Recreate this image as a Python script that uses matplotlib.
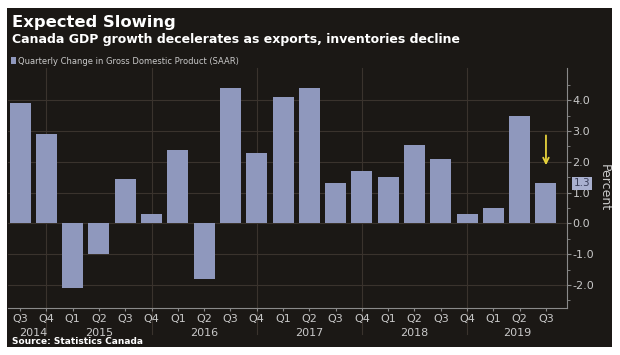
import matplotlib.pyplot as plt
from matplotlib.patches import Rectangle
from matplotlib.transforms import blended_transform_factory

quarters = ["Q3", "Q4", "Q1", "Q2", "Q3", "Q4", "Q1", "Q2", "Q3", "Q4", "Q1",
            "Q2", "Q3", "Q4", "Q1", "Q2", "Q3", "Q4", "Q1", "Q2", "Q3"]
years = ["2014", "2015", "2016", "2017", "2018", "2019"]
gdp_change = [3.9, 2.9, -2.1, -1.0, 1.45, 0.3, 2.4, -1.8, 4.4, 2.3, 4.1,
              4.4, 1.3, 1.7, 1.5, 2.55, 2.1, 0.3, 0.5, 3.5, 1.3]
yticks = [-2.0, -1.0, 0.0, 1.0, 2.0, 3.0, 4.0]

BG = "#1b1815"
BAR = "#8f98bd"
GRID = "#3a332d"
TEXT = "#c9c9c9"

W, H = 620, 355
fig = plt.figure(figsize=(W / 100, H / 100), dpi=100, facecolor="white")
fig.patches.append(Rectangle((7 / W, 1 - 347 / H), 605 / W, 339 / H,
                             transform=fig.transFigure, facecolor=BG,
                             edgecolor="none", zorder=-10))

ax = fig.add_axes([8 / W, 1 - 308 / H, (567 - 8) / W, (308 - 68) / H])
ax.set_facecolor(BG)

x = list(range(len(gdp_change)))
ax.bar(x, gdp_change, width=0.8, color=BAR, zorder=3,
       label="Quarterly Change in Gross Domestic Product (SAAR)")
ax.set_xlim(-0.46, 20.8)
ax.set_ylim(-2.75, 5.05)

# horizontal grid
for v in yticks:
    ax.axhline(v, color=GRID, linewidth=0.8, zorder=1)

# year separators at Q4 positions
sep_idx = [i for i, q in enumerate(quarters) if q == "Q4"]
trans = blended_transform_factory(ax.transData, ax.transAxes)
for i in sep_idx:
    ax.plot([i, i], [-0.11, 1], transform=trans, color=GRID, linewidth=0.8,
            clip_on=False, zorder=1)

# year labels centred between separators
bounds = [-0.46] + sep_idx + [20.8]
year_pos = [(bounds[k] + bounds[k + 1]) / 2 for k in range(len(years))]
year_pos[0] = 0.5
for yr, p in zip(years, year_pos):
    ax.text(p, -0.085, yr, transform=trans, ha="center", va="top",
            color=TEXT, fontsize=8)

ax.set_xticks(x)
ax.set_xticklabels(quarters, color=TEXT, fontsize=8)
ax.tick_params(axis="x", length=2, color="#8a8a8a", pad=2)

ax.yaxis.tick_right()
ax.yaxis.set_label_position("right")
ax.set_yticks(yticks)
ax.set_yticklabels([f"{v:.1f}" for v in yticks], color=TEXT, fontsize=8)
ax.set_yticks([v + 0.5 for v in range(-3, 5)], minor=True)
ax.tick_params(axis="y", which="major", length=3, color="#8a8a8a", pad=1)
ax.tick_params(axis="y", which="minor", length=2, color="#8a8a8a")
ax.set_ylabel("Percent", rotation=270, color=TEXT, fontsize=9, labelpad=12)

for side in ["top", "left"]:
    ax.spines[side].set_visible(False)
for side in ["bottom", "right"]:
    ax.spines[side].set_color("#8a8a8a")
    ax.spines[side].set_linewidth(0.8)

# last value tag
ax.annotate(f"{gdp_change[-1]:.1f}", xy=(1.0, gdp_change[-1]),
            xycoords=("axes fraction", "data"), xytext=(5, 0),
            textcoords="offset points", ha="left", va="center",
            fontsize=7.5, color="#3a3f5a",
            bbox=dict(boxstyle="square,pad=0.15", fc="#a9b0cf", ec="none"))

# yellow arrow over last bar
ax.annotate("", xy=(20, 1.8), xytext=(20, 2.95),
            arrowprops=dict(arrowstyle="->", color="#e6d23c", lw=1.3))

leg = ax.legend(loc="lower left", bbox_to_anchor=(0.0, 1.0), frameon=False,
                fontsize=6, handlelength=0.6, handleheight=0.8,
                handletextpad=0.3, borderpad=0.1, borderaxespad=0.2)
for t in leg.get_texts():
    t.set_color(TEXT)

fig.text(12 / W, 1 - 27 / H, "Expected Slowing", color="white",
         fontsize=11.8, fontweight="bold", va="baseline")
fig.text(12 / W, 1 - 43 / H, "Canada GDP growth decelerates as exports, inventories decline",
         color="white", fontsize=9, fontweight="bold", va="baseline")
fig.text(12 / W, 1 - 344 / H, "Source: Statistics Canada", color="white",
         fontsize=6.5, fontweight="bold", va="baseline")

fig.savefig("out.png", dpi=100, facecolor="white")
